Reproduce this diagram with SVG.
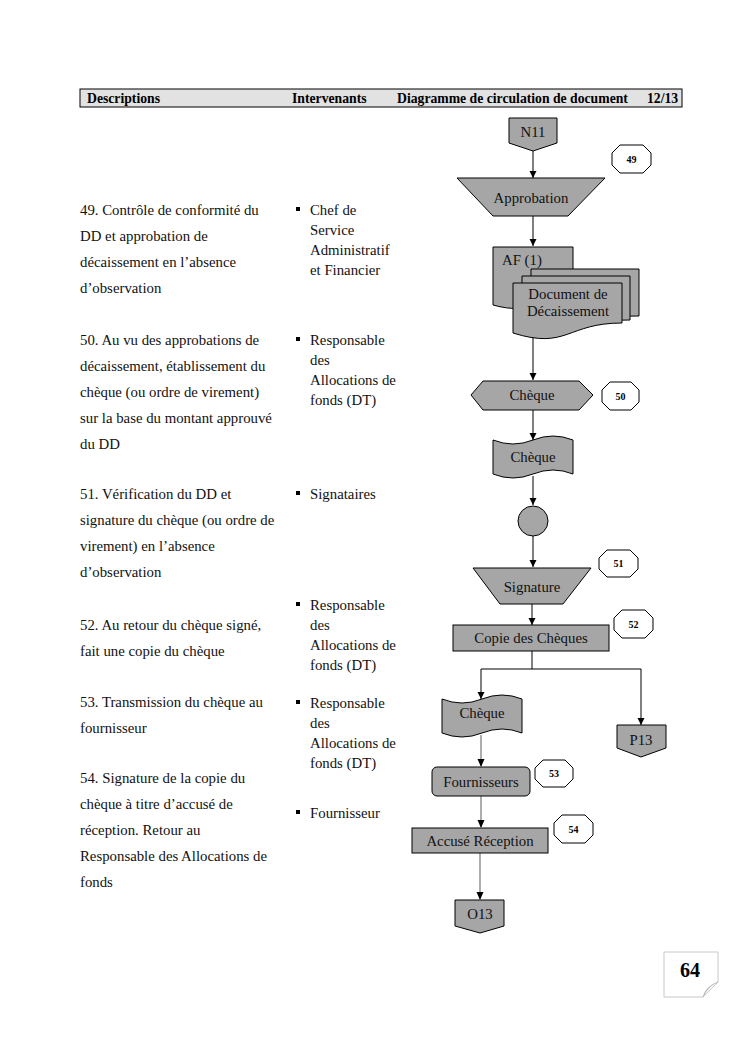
<svg xmlns="http://www.w3.org/2000/svg" width="744" height="1053" viewBox="0 0 744 1053">
<defs>
<marker id="arr" viewBox="0 0 10 10" refX="10" refY="5" markerWidth="7" markerHeight="8" orient="auto" markerUnits="userSpaceOnUse">
<path d="M0,0 L10,5 L0,10 Z" fill="#000"/>
</marker>
<style>
.t{font-family:"Liberation Serif","Times New Roman",serif;font-size:14.8px;fill:#111}
.s{font-family:"Liberation Serif","Times New Roman",serif;font-size:14.8px;fill:#111;text-anchor:middle}
.h{font-family:"Liberation Serif","Times New Roman",serif;font-size:13.7px;font-weight:bold;fill:#000}
.o{font-family:"Liberation Serif","Times New Roman",serif;font-size:10px;font-weight:bold;fill:#000;text-anchor:middle}
.sh{fill:#a6a6a6;stroke:#000;stroke-width:1}
.oc{fill:#fff;stroke:#000;stroke-width:1}
.c{fill:none;stroke:#000;stroke-width:1}
.cg{fill:none;stroke:#777;stroke-width:1.2}
</style>
</defs>
<rect width="744" height="1053" fill="#fff"/>

<g id="header">
<rect x="80" y="89" width="602" height="18" fill="#e2e2e2" stroke="#000" stroke-width="1"/>
<text class="h" x="87" y="102.5">Descriptions</text>
<text class="h" x="292" y="102.5">Intervenants</text>
<text class="h" x="397" y="102.5">Diagramme de circulation de document</text>
<text class="h" x="647" y="102.5">12/13</text>
</g>

<g id="descriptions">
<text class="t" x="80" y="215">49. Contrôle de conformité du</text>
<text class="t" x="80" y="241">DD et approbation de</text>
<text class="t" x="80" y="267">décaissement en l’absence</text>
<text class="t" x="80" y="293">d’observation</text>
<text class="t" x="80" y="345">50. Au vu des approbations de</text>
<text class="t" x="80" y="371">décaissement, établissement du</text>
<text class="t" x="80" y="397">chèque (ou ordre de virement)</text>
<text class="t" x="80" y="423">sur la base du montant approuvé</text>
<text class="t" x="80" y="449">du DD</text>
<text class="t" x="80" y="499">51. Vérification du DD et</text>
<text class="t" x="80" y="525">signature du chèque (ou ordre de</text>
<text class="t" x="80" y="551">virement) en l’absence</text>
<text class="t" x="80" y="577">d’observation</text>
<text class="t" x="80" y="630">52. Au retour du chèque signé,</text>
<text class="t" x="80" y="656">fait une copie du chèque</text>
<text class="t" x="80" y="707">53. Transmission du chèque au</text>
<text class="t" x="80" y="733">fournisseur</text>
<text class="t" x="80" y="783">54. Signature de la copie du</text>
<text class="t" x="80" y="809">chèque à titre d’accusé de</text>
<text class="t" x="80" y="835">réception. Retour au</text>
<text class="t" x="80" y="861">Responsable des Allocations de</text>
<text class="t" x="80" y="887">fonds</text>
</g>

<g id="intervenants">
<rect x="296" y="207" width="4" height="4" fill="#000"/>
<text class="t" x="310" y="215">Chef de</text>
<text class="t" x="310" y="235">Service</text>
<text class="t" x="310" y="255">Administratif</text>
<text class="t" x="310" y="275">et Financier</text>
<rect x="296" y="337" width="4" height="4" fill="#000"/>
<text class="t" x="310" y="345">Responsable</text>
<text class="t" x="310" y="365">des</text>
<text class="t" x="310" y="385">Allocations de</text>
<text class="t" x="310" y="405">fonds (DT)</text>
<rect x="296" y="491" width="4" height="4" fill="#000"/>
<text class="t" x="310" y="499">Signataires</text>
<rect x="296" y="602" width="4" height="4" fill="#000"/>
<text class="t" x="310" y="610">Responsable</text>
<text class="t" x="310" y="630">des</text>
<text class="t" x="310" y="650">Allocations de</text>
<text class="t" x="310" y="670">fonds (DT)</text>
<rect x="296" y="700" width="4" height="4" fill="#000"/>
<text class="t" x="310" y="708">Responsable</text>
<text class="t" x="310" y="728">des</text>
<text class="t" x="310" y="748">Allocations de</text>
<text class="t" x="310" y="768">fonds (DT)</text>
<rect x="296" y="810" width="4" height="4" fill="#000"/>
<text class="t" x="310" y="818">Fournisseur</text>
</g>

<g id="connectors">
<line class="c" x1="533" y1="151" x2="533" y2="178" marker-end="url(#arr)"/>
<line class="c" x1="533" y1="216" x2="533" y2="246" marker-end="url(#arr)"/>
<line class="c" x1="533" y1="334" x2="533" y2="380" marker-end="url(#arr)"/>
<line class="c" x1="533" y1="410" x2="533" y2="440" marker-end="url(#arr)"/>
<line class="c" x1="533" y1="476" x2="533" y2="505" marker-end="url(#arr)"/>
<line class="c" x1="533" y1="536" x2="533" y2="567" marker-end="url(#arr)"/>
<line class="c" x1="532" y1="604" x2="532" y2="625" marker-end="url(#arr)"/>
<polyline class="c" points="532,651 532,669 481,669 481,699" marker-end="url(#arr)"/>
<polyline class="c" points="532,669 641,669 641,725" marker-end="url(#arr)"/>
<line class="cg" x1="481" y1="735" x2="481" y2="766"/>
<path d="M477.5,759 L484.5,759 L481,767 Z" fill="#000"/>
<line class="cg" x1="481" y1="796" x2="481" y2="827"/>
<path d="M477.5,820 L484.5,820 L481,828 Z" fill="#000"/>
<line class="cg" x1="480" y1="853" x2="480" y2="899"/>
<path d="M476.5,892 L483.5,892 L480,900 Z" fill="#000"/>
</g>

<g id="N11">
<path class="sh" d="M509,118 H557 V143 L533,151 L509,143 Z"/>
<text class="s" x="533" y="137">N11</text>
</g>

<g id="n49">
<polygon class="oc" points="620,145 643,145 651,153 651,165 643,173 620,173 612,165 612,153"/>
<text class="o" x="631.5" y="163">49</text>
</g>

<g id="approbation">
<path class="sh" d="M457,178 H605 L568,216 H493 Z"/>
<text class="s" x="531" y="203">Approbation</text>
</g>

<g id="af1">
<path class="sh" d="M493,247 H573 V297 C533,297 533,316 493,305 Z"/>
<text class="t" x="502" y="265">AF (1)</text>
</g>

<g id="docDecaissement">
<path class="sh" d="M531,269 H639 V316 C585,316 585,330 531,322 Z"/>
<path class="sh" d="M522,276 H630 V320 C576,320 576,337 522,328 Z"/>
<path class="sh" d="M513,283 H622 V323 C567,323 567,350 513,333 Z"/>
<text class="s" x="568" y="299">Document de</text>
<text class="s" x="568" y="316">Décaissement</text>
</g>

<g id="chequePrep">
<polygon class="sh" points="471,395 483,381 579,381 593,395 579,410 483,410"/>
<text class="s" x="532" y="400">Chèque</text>
</g>

<g id="n50">
<polygon class="oc" points="610,382 631,382 639,390 639,402 631,410 610,410 602,402 602,390"/>
<text class="o" x="620.5" y="400">50</text>
</g>

<g id="chequeTape1">
<path class="sh" d="M493,440 Q513,448 533,440 T573,440 V474 Q553,466 533,474 T493,474 Z"/>
<text class="s" x="533" y="462">Chèque</text>
</g>

<g id="connecteur">
<circle class="sh" cx="533" cy="521" r="15"/>
</g>

<g id="signature">
<path class="sh" d="M473,568 H591 L563,604 H500 Z"/>
<text class="s" x="532" y="592">Signature</text>
</g>

<g id="n51">
<polygon class="oc" points="607,550 630,550 638,558 638,569 630,577 607,577 599,569 599,558"/>
<text class="o" x="618.5" y="567">51</text>
</g>

<g id="copieCheques">
<rect class="sh" x="453" y="625" width="156" height="26"/>
<text class="s" x="531" y="643">Copie des Chèques</text>
</g>

<g id="n52">
<polygon class="oc" points="622,610 645,610 653,618 653,630 645,638 622,638 614,630 614,618"/>
<text class="o" x="633.5" y="628">52</text>
</g>

<g id="chequeTape2">
<path class="sh" d="M442,699 Q462,707 482,699 T522,699 V733 Q502,725 482,733 T442,733 Z"/>
<text class="s" x="482" y="718">Chèque</text>
</g>

<g id="P13">
<path class="sh" d="M617,725 H666 V748 L641,757 L617,748 Z"/>
<text class="s" x="641" y="745">P13</text>
</g>

<g id="fournisseurs">
<rect class="sh" x="432" y="767" width="98" height="29" rx="5" ry="5"/>
<text class="s" x="481" y="787">Fournisseurs</text>
</g>

<g id="n53">
<polygon class="oc" points="543,760 565,760 573,768 573,779 565,787 543,787 535,779 535,768"/>
<text class="o" x="554" y="777">53</text>
</g>

<g id="accuseReception">
<rect class="sh" x="412" y="828" width="136" height="25"/>
<text class="s" x="480" y="846">Accusé Réception</text>
</g>

<g id="n54">
<polygon class="oc" points="562,815 585,815 593,823 593,835 585,843 562,843 554,835 554,823"/>
<text class="o" x="573.5" y="833">54</text>
</g>

<g id="O13">
<path class="sh" d="M455,900 H504 V926 L480,933 L455,926 Z"/>
<text class="s" x="480" y="919">O13</text>
</g>

<g id="pageNumber">
<path d="M664,952 H718 V982 L703,997 H664 Z" fill="#fff" stroke="#c8c8c8" stroke-width="1"/>
<path d="M703,997 Q705,987 718,982 Q709,985 703,997 Z" fill="#bdbdbd" stroke="#aaa" stroke-width="0.5"/>
<text x="690" y="977" font-family="Liberation Serif, Times New Roman, serif" font-size="20" font-weight="bold" text-anchor="middle" fill="#000">64</text>
</g>
</svg>
